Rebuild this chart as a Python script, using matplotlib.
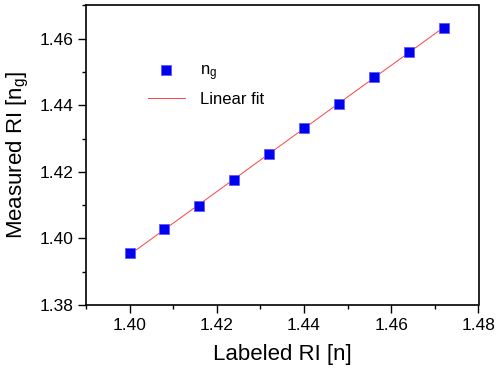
import numpy as np
import matplotlib
matplotlib.use('Agg')
import matplotlib.pyplot as plt
from matplotlib.ticker import MultipleLocator

plt.rcParams['font.family'] = ['Liberation Sans', 'DejaVu Sans']
plt.rcParams['mathtext.default'] = 'regular'

# data
labeled_ri = [1.400, 1.408, 1.416, 1.424, 1.432, 1.440, 1.448, 1.456, 1.464, 1.472]
measured_ri = [1.3957, 1.4028, 1.4097, 1.4174, 1.4253, 1.4332, 1.4404, 1.4486, 1.4560, 1.4632]

x_ticks = [1.40, 1.42, 1.44, 1.46, 1.48]
y_ticks = [1.38, 1.40, 1.42, 1.44, 1.46]

fig = plt.figure(figsize=(5.0, 3.69), dpi=100)
ax = fig.add_axes([0.172, 0.1734, 0.785, 0.8122])

# linear fit through the points
slope, icpt = np.polyfit(labeled_ri, measured_ri, 1)
xf = np.array([labeled_ri[0], labeled_ri[-1]])

ax.plot(labeled_ri, measured_ri, 's', color='#0000ee', markersize=6.5,
        markeredgecolor='#5a5aff', markeredgewidth=0.6, label='n$_g$', zorder=3)
ax.plot(xf, slope * xf + icpt, '-', color='#ff4040', linewidth=0.7, label='Linear fit')

ax.set_xlim(1.39, 1.48)
ax.set_ylim(1.38, 1.47)
ax.set_xticks(x_ticks)
ax.set_yticks(y_ticks)
ax.set_xticklabels(['%.2f' % v for v in x_ticks])
ax.set_yticklabels(['%.2f' % v for v in y_ticks])
ax.xaxis.set_minor_locator(MultipleLocator(0.01))
ax.yaxis.set_minor_locator(MultipleLocator(0.01))
ax.tick_params(which='major', direction='out', length=6, width=1, labelsize=12.5, pad=3)
ax.tick_params(which='minor', direction='out', length=3, width=1)
for s in ax.spines.values():
    s.set_linewidth(1.2)

ax.set_xlabel('Labeled RI [n]', fontsize=16, labelpad=8)
ax.set_ylabel('Measured RI [n$_g$]', fontsize=16, labelpad=6)

leg = ax.legend(loc='upper left', bbox_to_anchor=(0.12, 0.855), frameon=False,
                fontsize=12, handlelength=2.2, handletextpad=0.9, labelspacing=0.5,
                numpoints=1)

fig.savefig('out.png', dpi=100)
